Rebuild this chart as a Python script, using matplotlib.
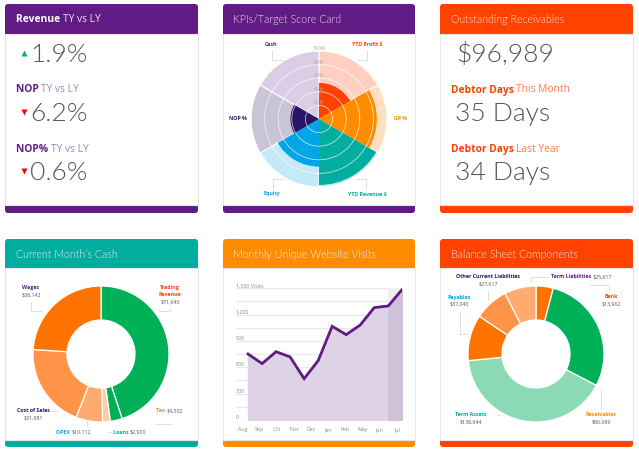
import matplotlib
matplotlib.use("Agg")
import matplotlib.pyplot as plt
import matplotlib.patches as patches
import numpy as np

W, H = 639, 455
PURPLE = "#621B85"
RED = "#FF4200"
TEAL = "#00AD9F"
ORANGE = "#FF8C00"
BLUE = "#00A6E6"
NAVY = "#2A1463"
GREEN = "#00B057"
GREY = "#555555"

plt.rcParams["font.family"] = ["Open Sans", "DejaVu Sans"]

# donut data
cash_labels = ["Trading Revenue", "Tax", "Loans", "OPEX", "Cost of Sales", "Wages"]
cash_values = [71640, 4502, 2900, 10112, 31981, 38142]
cash_colors = [GREEN, GREEN, "#FFCBA8", "#FFAB70", "#FF9347", "#FF7300"]

bs_labels = ["Bank", "Receivables", "Term Assets", "Payables", "Other Current Liabilities", "Term Liabilities"]
bs_values = [13962, 96989, 138644, 37040, 27617, 25617]
bs_colors = ["#FF7300", GREEN, "#8CD9B5", "#FF7300", "#FF9347", "#FFAB70"]

# score card data
kpi_names = ["YTD Profit $", "GP %", "YTD Revenue $", "Equity", "NOP %", "Cash"]
kpi_scores = [53, 85, 97, 70, 42, 0]
kpi_dark = [RED, ORANGE, TEAL, BLUE, NAVY, PURPLE]
kpi_light = ["#FFCFC2", "#FFDFBF", "#BFEAE6", "#C4E9F8", "#CAC5D6", "#DCCDE6"]
score_rings = [20, 40, 60, 80, 100]

# visits data
months = ["Aug", "Sep", "Oct", "Nov", "Dec", "Jan", "Feb", "May", "Jun", "Jul"]
visits = [752, 642, 778, 718, 471, 676, 1067, 972, 1082, 1280, 1299, 1489]

fig = plt.figure(figsize=(W / 100, H / 100), dpi=100, facecolor="white")
bg = fig.add_axes([0, 0, 1, 1])
bg.set_xlim(0, W)
bg.set_ylim(H, 0)
bg.axis("off")

HEAD = 7.4
SMALL = 3.8


def px_axes(left, top, width, height, **kw):
    ax = fig.add_axes([left / W, 1 - (top + height) / H, width / W, height / H], **kw)
    ax.patch.set_alpha(0)
    return ax


def card(x0, x1, y0, y1, head, foot, color):
    bg.add_patch(patches.FancyBboxPatch((x0 + 3, y0 + 3), x1 - x0 - 6, y1 - y0 - 6,
                                        boxstyle="round,pad=3", fc=color, ec="none"))
    bg.add_patch(patches.Rectangle((x0, head), x1 - x0, foot - head, fc="white", ec="#E6E6E6", lw=0.8))


def spans(x, y, parts, size):
    # parts of one line, drawn one after the other
    r = fig.canvas.get_renderer()
    for s, color, weight in parts:
        t = bg.text(x, y, s, color=color, fontsize=size, fontweight=weight, va="center", ha="left")
        x = bg.transData.inverted().transform(t.get_window_extent(r).get_points())[1][0]


def big(x, y, s):
    bg.text(x, y, s, color=GREY, fontsize=19, family="Lato", fontweight=300, va="center", ha="left")


def title(x, y, s):
    bg.text(x, y, s, color=LIGHT, fontsize=7.7, family="Lato", fontweight=300, va="center")


def tag(x, y, name, value, color):
    bg.text(x, y, name, color=color, fontsize=SMALL, fontweight="bold", ha="center", va="center")
    if value:
        bg.text(x, y + 7, value, color=GREY, fontsize=SMALL, ha="center", va="center")


def tag_inline(x, y, name, value, color):
    spans(x, y, [(name + " ", color, "bold"), (value, GREY, "normal")], SMALL)


def leader(xs, ys):
    bg.plot(xs, ys, color="#DDDDDD", lw=0.7, solid_capstyle="butt")


card(5, 198, 4, 213, 34, 205, PURPLE)
card(223, 415, 4, 213, 34, 205, PURPLE)
card(440, 633, 4, 213, 34, 205, RED)
card(5, 198, 239, 447, 268, 440, TEAL)
card(223, 415, 239, 447, 268, 440, ORANGE)
card(440, 633, 239, 447, 268, 440, RED)

LIGHT = "#FFFFFFDD"
spans(16, 19.5, [("Revenue ", "white", "bold"), ("TY vs LY", LIGHT, "normal")], HEAD)
title(233, 19.5, "KPIs/Target Score Card")
title(451, 19.5, "Outstanding Receivables")
title(16, 254, "Current Month\u2019s Cash")
title(233, 254, "Monthly Unique Website Visits")
title(451, 254, "Balance Sheet Components")

# card 1, text figures
spans(16, 90, [("NOP ", PURPLE, "bold"), ("TY vs LY", "#A77FBC", "normal")], HEAD)
spans(16, 149.5, [("NOP% ", PURPLE, "bold"), ("TY vs LY", "#A77FBC", "normal")], HEAD)
for y, s in zip([55, 114, 173], ["1.9%", "6.2%", "0.6%"]):
    big(30, y, s)
bg.plot([23.5], [53], marker="^", ms=5, color="#00C050", mec="none")
bg.plot([23.5], [112], marker="v", ms=5, color="#FF0000", mec="none")
bg.plot([23.5], [171], marker="v", ms=5, color="#FF0000", mec="none")

# card 3, text figures
big(456, 55, "$96,989")
spans(451, 90, [("Debtor Days ", RED, "bold"), ("This Month", "#FF7A4D", "normal")], HEAD)
big(455, 114, "35 Days")
spans(451, 149.5, [("Debtor Days ", RED, "bold"), ("Last Year", "#FF7A4D", "normal")], HEAD)
big(455, 173, "34 Days")

# score card
ax = px_axes(251, 51, 136, 136, projection="polar")
ax.set_theta_zero_location("N")
ax.set_theta_direction(-1)
angles = np.arange(len(kpi_names)) * np.pi / 3
ax.bar(angles, [100] * len(kpi_names), width=np.pi / 3, align="edge", color=kpi_light, ec="white", lw=0.8)
ax.bar(angles, kpi_scores, width=np.pi / 3, align="edge", color=kpi_dark, ec="none")
ax.set_ylim(0, 100)
ax.set_xticks([])
ax.set_axisbelow(False)
ax.set_rgrids(score_rings, [f"{v}%" for v in score_rings], angle=0, color="#AAAAAA", fontsize=SMALL, va="bottom", ha="center")
ax.grid(True, color="white", lw=0.6, alpha=0.7)
ax.spines["polar"].set_visible(False)

tag(271, 45, "Cash", "", PURPLE)
tag(367, 45, "YTD Profit $", "", RED)
tag(400, 119, "GP %", "", ORANGE)
tag(367, 194, "YTD Revenue $", "", TEAL)
tag(272, 194, "Equity", "", BLUE)
tag(238, 119, "NOP %", "", NAVY)
leader([272, 272, 282], [50, 60, 60])
leader([367, 367, 357], [50, 60, 60])
leader([366, 366, 356], [189, 179, 179])
leader([273, 273, 283], [189, 179, 179])

# cash donut
ax = px_axes(33, 286, 136, 136)
ax.pie(cash_values, colors=cash_colors, startangle=90, counterclock=False, radius=1,
       wedgeprops=dict(width=0.5, edgecolor="white", linewidth=0.9), frame=False)
ax.set_xlim(-1, 1)
ax.set_ylim(-1, 1)

tag(31, 288, "Wages", "$38,142", PURPLE)
tag(170, 288, "Trading", "", RED)
tag(170, 295, "Revenue", "$71,640", RED)
tag(33, 411, "Cost of Sales", "$31,981", NAVY)
tag_inline(156, 411, "Tax", "$4,502", ORANGE)
tag_inline(56, 432, "OPEX", "$10,112", BLUE)
tag_inline(113, 432, "Loans", "$2,900", TEAL)
leader([31, 31, 42], [302, 311, 311])
leader([170, 170, 159], [309, 311, 311])
leader([51, 58], [411, 411])
leader([155, 172], [424, 424])
leader([87, 87], [420, 426])
leader([107, 111], [432, 432])

# visits
ax = px_axes(235.7, 288.3, 166.6, 131.7)
x = np.arange(len(visits))
ax.axvspan(9.97, 11, color="#EFEFEF", zorder=1)
ax.fill_between(x, visits, color="#DED3E6", zorder=2)
ax.fill_between(x[-2:], visits[-2:], color="#CFC2D8", zorder=3)
ax.plot(x, visits, color=PURPLE, lw=2, zorder=4, solid_joinstyle="miter")
ax.set_xlim(-0.88, 11)
ax.set_ylim(0, 1500)
ax.set_xticks(np.linspace(-0.4, 10.62, len(months)), months)
y_ticks = list(range(0, 1501, 150))
y_text = {0: "0", 300: "300", 600: "600", 900: "900", 1200: "1,200", 1500: "1,500 Visits"}
ax.set_yticks(y_ticks, [y_text.get(v, "") for v in y_ticks])
ax.tick_params(axis="both", length=0, labelsize=SMALL, labelcolor="#888888")
ax.tick_params(axis="x", pad=5)
ax.tick_params(axis="y", pad=0)
for t in ax.get_yticklabels():
    t.set_ha("left")
    t.set_va("bottom")
ax.grid(axis="y", color="#E8E8E8", lw=0.9, zorder=0)
ax.set_axisbelow(True)
for s in ax.spines.values():
    s.set_visible(False)

# balance sheet donut
ax = px_axes(468, 286, 136, 136)
ax.pie(bs_values, colors=bs_colors, startangle=90, counterclock=False, radius=1,
       wedgeprops=dict(width=0.5, edgecolor="white", linewidth=0.9), frame=False)
ax.set_xlim(-1, 1)
ax.set_ylim(-1, 1)

tag(488, 277, "Other Current Liabilities", "$27,617", NAVY)
tag_inline(551, 277, "Term Liabilities", "$25,617", PURPLE)
tag(459, 297, "Payables", "$37,040", BLUE)
tag(611, 297, "Bank", "$13,962", RED)
tag(471, 415, "Term Assets", "$138,644", TEAL)
tag(601, 415, "Receivables", "$96,989", ORANGE)
leader([531, 531, 548], [283, 277, 277])
leader([589, 609, 609], [285, 285, 291])
leader([488, 488], [291, 300])
leader([460, 460, 468], [311, 334, 334])
leader([500, 497], [415, 415])
leader([601, 601], [388, 409])

fig.savefig("out.png", dpi=100)
